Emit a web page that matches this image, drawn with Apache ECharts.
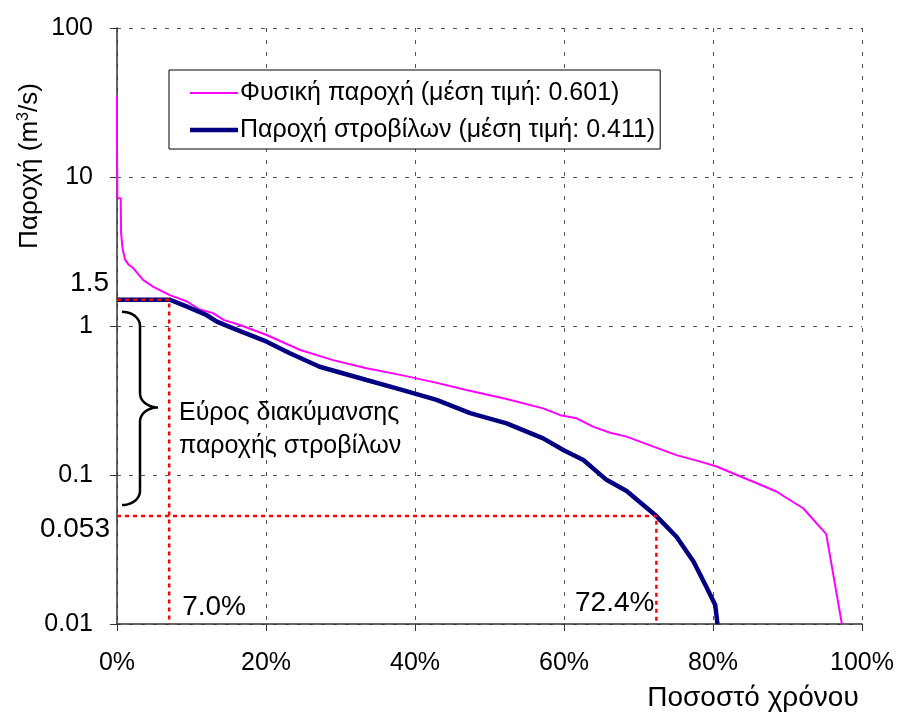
<!DOCTYPE html>
<html><head><meta charset="utf-8">
<script src="https://cdn.jsdelivr.net/npm/echarts@6/dist/echarts.min.js"></script>
<style>html,body{margin:0;padding:0;background:#fff}#c{width:900px;height:718px}</style>
</head><body><div id="c"></div>
<script>
// ---- data ----
const xTicks = [0, 20, 40, 60, 80, 100];
const yTicks = [0.01, 0.1, 1, 10, 100];
const naturalName = 'Φυσική παροχή (μέση τιμή: 0.601)';
const turbineName = 'Παροχή στροβίλων (μέση τιμή: 0.411)';
const naturalPct  = [0, 0, 0.05, 0.05, 0.5, 0.55, 0.75, 1.07, 1.5, 2.2, 3.5, 4.8, 7.1, 9.4, 11.1, 12.9, 14.3, 16.5, 20.1, 24.6, 29.0, 33.5, 38.0, 42.5, 46.9, 52.3, 57.2, 59.5, 61.7, 63.9, 66.2, 68.4, 72.0, 75.1, 78.3, 80.5, 83.2, 85.9, 88.5, 92.1, 95.2, 97.3];
const naturalFlow = [35, 17.5, 17.5, 7.2, 7.2, 4.2, 3.3, 2.8, 2.6, 2.44, 2.04, 1.84, 1.61, 1.46, 1.29, 1.22, 1.10, 1.015, 0.87, 0.69, 0.59, 0.52, 0.47, 0.42, 0.372, 0.324, 0.28, 0.252, 0.24, 0.211, 0.192, 0.181, 0.155, 0.136, 0.123, 0.114, 0.1, 0.088, 0.0775, 0.0598, 0.0401, 0.01];
const turbinePct  = [0, 7.1, 9.4, 12.0, 13.4, 15.6, 20.1, 23.2, 27.2, 33.5, 38.0, 42.9, 47.4, 52.3, 57.2, 59.9, 62.6, 65.7, 68.4, 72.4, 75.1, 77.4, 79.1, 80.3, 80.6];
const turbineFlow = [1.5, 1.5, 1.35, 1.185, 1.07, 0.965, 0.785, 0.656, 0.533, 0.434, 0.376, 0.319, 0.26, 0.222, 0.176, 0.147, 0.126, 0.0928, 0.078, 0.053, 0.0385, 0.0262, 0.0178, 0.0134, 0.01];
const maxFlow = 1.5, maxPct = 7.0;     // turbine max flow, % of time exceeded
const minFlow = 0.053, minPct = 72.4;  // turbine min flow
const rangeText = ['Εύρος διακύμανσης', 'παροχής στροβίλων'];
// ---------------

const FONT = '"Liberation Sans", Arial, sans-serif';
const zip = (a, b) => a.map((v, i) => [v, b[i]]);
const chart = echarts.init(document.getElementById('c'), null, {renderer: 'canvas'});
const gridLine = {show: true, lineStyle: {color: '#555', type: [4, 8], width: 1}};
const redLine = {color: '#ff0000', width: 2.5, type: [4, 4]};

chart.setOption({
  animation: false,
  backgroundColor: '#fff',
  grid: {left: 117, right: 38, top: 28, bottom: 94},
  legend: {
    data: [
      {name: naturalName, icon: 'path://M0,0H48V2H0Z'},
      {name: turbineName, icon: 'path://M0,0H48V4.5H0Z'}
    ],
    orient: 'vertical', left: 169, top: 70,
    padding: [9, 5, 5, 21], itemGap: 9,
    itemWidth: 48, itemHeight: 14, symbolKeepAspect: true,
    backgroundColor: '#fff', borderColor: '#000', borderWidth: 1, borderRadius: 0,
    textStyle: {fontFamily: FONT, fontSize: 25, color: '#000', lineHeight: 28, padding: [0, 0, 0, -3]}
  },
  xAxis: {
    type: 'value', min: 0, max: 100, interval: 20,
    axisLine: {show: true, onZero: false, lineStyle: {color: '#333', width: 1.5}},
    axisTick: {show: true, inside: false, length: 7, lineStyle: {color: '#333'}},
    axisLabel: {formatter: '{value}%', fontFamily: FONT, fontSize: 25, color: '#000', margin: 27},
    splitLine: gridLine
  },
  yAxis: {
    type: 'log', logBase: 10, min: 0.01, max: 100,
    axisLine: {show: true, onZero: false, lineStyle: {color: '#333', width: 1.5}},
    axisTick: {show: true, inside: false, length: 7, lineStyle: {color: '#333'}},
    axisLabel: {formatter: v => String(+(+v).toPrecision(3)), fontFamily: FONT, fontSize: 25, color: '#000', margin: 24},
    splitLine: gridLine,
    minorTick: {show: false}
  },
  series: [
    {name: naturalName, type: 'line', data: zip(naturalPct, naturalFlow), symbol: 'none',
     lineStyle: {color: '#ff00ff', width: 2}, itemStyle: {color: '#ff00ff'}, z: 3},
    {name: turbineName, type: 'line', data: zip(turbinePct, turbineFlow), symbol: 'none',
     lineStyle: {color: '#000080', width: 4.5}, itemStyle: {color: '#000080'}, z: 4},
    {name: 'maxGuide', type: 'line', data: [[0, maxFlow], [maxPct, maxFlow], [maxPct, 0.01]], symbol: 'none',
     lineStyle: redLine, z: 5, silent: true},
    {name: 'minGuide', type: 'line', data: [[0, minFlow], [minPct, minFlow], [minPct, 0.01]], symbol: 'none',
     lineStyle: redLine, z: 5, silent: true}
  ]
});

const P = (x, y) => chart.convertToPixel({gridIndex: 0}, [x, y]);
const pMax = P(maxPct, maxFlow), pMin = P(minPct, minFlow), p0 = P(0, 0.01);
const axisX = p0[0], axisY = p0[1];

// brace geometry (annotation) in pixels
const bTop = pMax[1] + 12, bBot = pMin[1] - 11, bMid = (bTop + bBot) / 2 - 1;
const bx0 = axisX + 5, bx1 = axisX + 23, bx2 = axisX + 41, r = 14;
function arc(cx, cy, rx, ry, a0, a1, n) {
  const pts = [];
  for (let i = 0; i <= n; i++) {
    const a = a0 + (a1 - a0) * i / n;
    pts.push([cx + rx * Math.cos(a), cy + ry * Math.sin(a)]);
  }
  return pts;
}
const H = Math.PI / 2;
const bracePts = [].concat(
  arc(bx0, bTop + r, bx1 - bx0, r, -H, 0, 10),
  arc(bx2, bMid - r, bx2 - bx1, r, Math.PI, H, 10),
  arc(bx2, bMid + r, bx2 - bx1, r, -H, -Math.PI, 10),
  arc(bx0, bBot - r, bx1 - bx0, r, 0, H, 10)
);

const txt = (x, y, text, extra) => ({type: 'text', x, y, z: 100,
  style: Object.assign({text, fontFamily: FONT, fontSize: 25, fill: '#000'}, extra || {})});

chart.setOption({
  graphic: [
    {type: 'polyline', z: 100, shape: {points: bracePts}, style: {stroke: '#000', lineWidth: 2.5, fill: null}},
    txt(bx2 + 21, bMid + 6, rangeText[0], {textAlign: 'left', textVerticalAlign: 'middle'}),
    txt(bx2 + 21, bMid + 39, rangeText[1], {textAlign: 'left', textVerticalAlign: 'middle'}),
    txt(axisX - 8, pMax[1] - 16, String(maxFlow), {textAlign: 'right', textVerticalAlign: 'middle', fontSize: 28}),
    txt(axisX - 7, pMin[1] + 13, String(minFlow), {textAlign: 'right', textVerticalAlign: 'middle', fontSize: 28}),
    txt(pMax[0] + 13, axisY - 17, maxPct.toFixed(1) + '%', {textAlign: 'left', textVerticalAlign: 'middle', fontSize: 28}),
    txt(pMin[0] - 2, axisY - 21, minPct.toFixed(1) + '%', {textAlign: 'right', textVerticalAlign: 'middle', fontSize: 28}),
    txt(753, 698, 'Ποσοστό χρόνου', {textAlign: 'center', textVerticalAlign: 'middle', fontSize: 28}),
    {type: 'text', x: 30, y: 166, rotation: Math.PI / 2, z: 100,
     style: {text: 'Παροχή (m{sup|3}/s)', fontFamily: FONT, fontSize: 26, fill: '#000',
             textAlign: 'center', textVerticalAlign: 'middle',
             rich: {sup: {fontSize: 16, fontFamily: FONT, verticalAlign: 'top', padding: [0, 0, 12, 0], fill: '#000'}}}}
  ]
});
</script></body></html>
